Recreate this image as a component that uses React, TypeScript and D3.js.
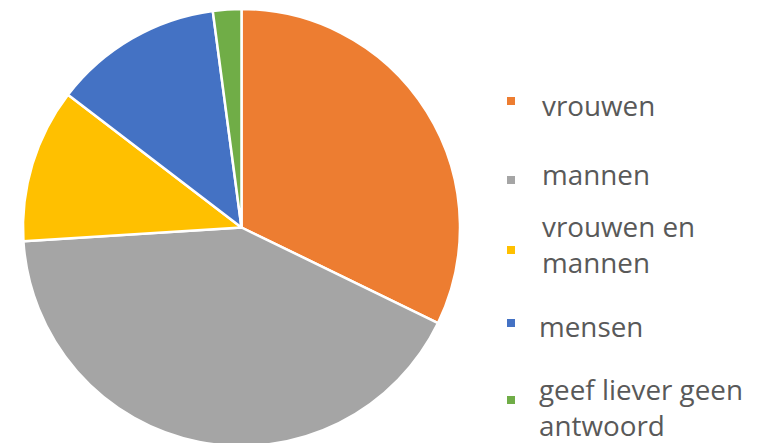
import React from 'react';
import * as d3 from 'd3';

const categories = ['vrouwen', 'mannen', 'vrouwen en mannen', 'mensen', 'geef liever geen antwoord'];
const values = [32.2, 41.8, 11.4, 12.5, 2.1];
const legendLines = [['vrouwen'], ['mannen'], ['vrouwen en', 'mannen'], ['mensen'], ['geef liever geen', 'antwoord']];
const colors = ['#ED7D31', '#A5A5A5', '#FFC000', '#4472C4', '#70AD47'];

const width = 766;
const height = 443;
const cx = 241.5;
const cy = 227.5;
const radius = 218.5;

// legend layout: square y, first text baseline
const legendItems = [
  { sq: 97, base: 116 },
  { sq: 176, base: 185 },
  { sq: 246, base: 237 },
  { sq: 319, base: 337 },
  { sq: 396, base: 400 },
];

const App: React.FC = () => {
  const pie = d3.pie<number>().sort(null).value(d => d);
  const arcs = pie(values);
  const arc = d3.arc<d3.PieArcDatum<number>>().innerRadius(0).outerRadius(radius);

  return (
    <svg width={width} height={height} style={{ position: 'absolute', left: 0, top: 0, background: '#fff' }}>
      <g transform={`translate(${cx},${cy})`}>
        {arcs.map((a, i) => (
          <path key={categories[i]} d={arc(a) || ''} fill={colors[i]} stroke="#fff" strokeWidth={2.5} strokeLinejoin="round" />
        ))}
      </g>
      <g fontFamily="'Open Sans', sans-serif" fontSize={27.8} fill="#595959">
        {legendItems.map((it, i) => (
          <g key={categories[i]}>
            <rect x={507} y={it.sq} width={8} height={8} fill={colors[i]} />
            {legendLines[i].map((line, j) => (
              <text key={line} x={i < 3 ? 542 : 539} y={it.base + j * 36}>{line}</text>
            ))}
          </g>
        ))}
      </g>
    </svg>
  );
};

export default App;
